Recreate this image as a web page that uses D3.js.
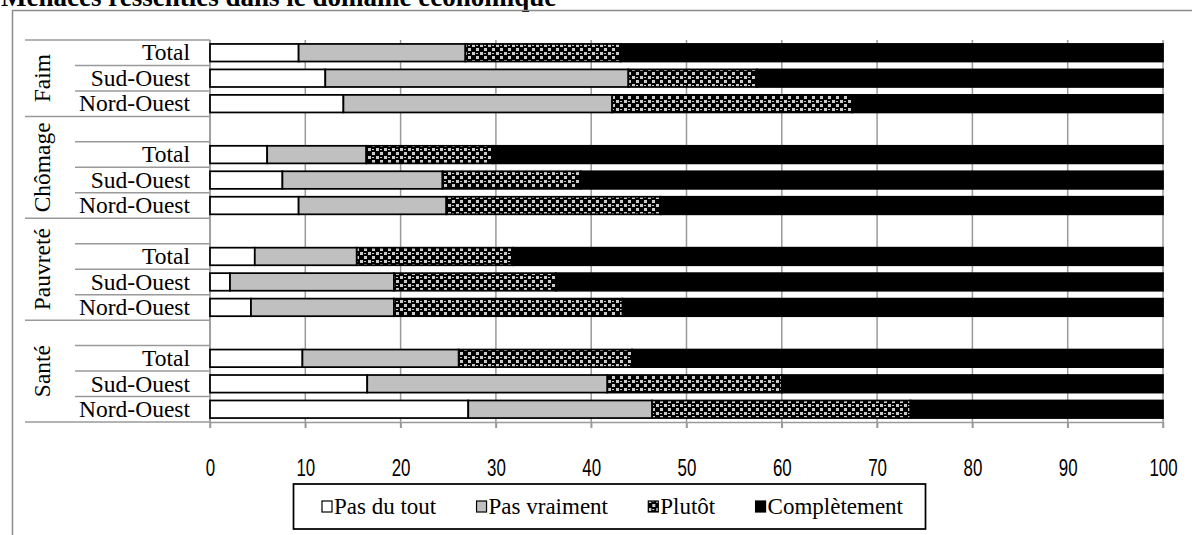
<!DOCTYPE html>
<html>
<head>
<meta charset="utf-8">
<script src="https://cdn.jsdelivr.net/npm/d3@7"></script>
<style>
  body { margin: 0; background: #fff; }
  svg { display: block; }
</style>
</head>
<body>
<div id="chart"></div>
<script>
var width = 1192;
var height = 535;

// data (percent)
var groups = ["Faim", "Chômage", "Pauvreté", "Santé"];
var regions = ["Total", "Sud-Ouest", "Nord-Ouest"];
var series = ["Pas du tout", "Pas vraiment", "Plutôt", "Complètement"];

// rows: Faim (Total, SO, NO), Chômage (...), Pauvreté (...), Santé (...)
var pasDuTout    = [9.3, 12.1, 14.0,  6.0,  7.6,  9.3,  4.7,  2.1,  4.3,  9.7, 16.5, 27.1];
var pasVraiment  = [17.5, 31.8, 28.2, 10.4, 16.8, 15.5, 10.7, 17.2, 15.0, 16.4, 25.2, 19.3];
var plutot       = [16.3, 13.5, 25.2, 13.3, 14.5, 22.5, 16.4, 17.0, 24.0, 18.2, 18.3, 27.1];
var completement = [56.9, 42.6, 32.6, 70.3, 61.1, 52.7, 68.2, 63.7, 56.7, 55.7, 40.0, 26.5];

var ticks = [0, 10, 20, 30, 40, 50, 60, 70, 80, 90, 100];

////////////////////////////////////////////////////////////////////////////////

var valuesBySeries = [pasDuTout, pasVraiment, plutot, completement];

// build the slots: every group but the first starts with an empty slot
var slots = [];
var rows = [];
groups.forEach(function(g, gi) {
    if (gi > 0) slots.push({ key: "blank" + gi, group: g, label: "", blank: true });
    regions.forEach(function(r, ri) {
        var idx = gi * regions.length + ri;
        var row = { key: g + "|" + r, group: g, label: r };
        series.forEach(function(s, si) { row[s] = valuesBySeries[si][idx]; });
        slots.push(row);
        rows.push(row);
    });
});

var svg = d3.select("#chart").append("svg")
    .attr("width", width)
    .attr("height", height);

var defs = svg.append("defs");
var pat = defs.append("pattern")
    .attr("id", "checker")
    .attr("patternUnits", "userSpaceOnUse")
    .attr("width", 8)
    .attr("height", 8);
pat.append("rect").attr("width", 8).attr("height", 8).attr("fill", "#000");
pat.append("rect").attr("x", 0).attr("y", 4).attr("width", 3).attr("height", 3).attr("fill", "#cccccc");
pat.append("rect").attr("x", 4).attr("y", 0).attr("width", 3).attr("height", 3).attr("fill", "#cccccc");
pat.append("rect").attr("x", 4).attr("y", 5).attr("width", 2).attr("height", 1).attr("fill", "#cccccc");

var fills = {
    "Pas du tout": "#ffffff",
    "Pas vraiment": "#c0c0c0",
    "Plutôt": "url(#checker)",
    "Complètement": "#000000"
};

var gridColor = "#9a9a9a";
var serif = "'Liberation Serif', 'Times New Roman', Times, serif";

var x = d3.scaleLinear().domain([0, 100]).range([210, 1163]);
var y = d3.scaleBand()
    .domain(slots.map(function(d) { return d.key; }))
    .range([40, 422])
    .padding(0);

var barH = y.bandwidth() * 0.69;

// title (partly cut at the top)
svg.append("text")
    .attr("x", 1)
    .attr("y", 6)
    .attr("font-family", serif)
    .attr("font-weight", "bold")
    .attr("font-size", "27px")
    .text("Menaces ressenties dans le domaine économique");

// chart border (left and top only visible)
svg.append("path")
    .attr("d", "M12.5,535 L12.5,10.5 L1192,10.5")
    .attr("fill", "none")
    .attr("stroke", "#8c8c8c")
    .attr("stroke-width", 1.5);

// vertical gridlines
svg.append("g")
    .selectAll("line")
    .data(ticks)
    .enter().append("line")
    .attr("x1", function(d) { return x(d); })
    .attr("x2", function(d) { return x(d); })
    .attr("y1", 40)
    .attr("y2", 428)
    .attr("stroke", gridColor)
    .attr("stroke-width", 1.5);

// x axis
var axis = svg.append("g")
    .attr("transform", "translate(0,422)")
    .call(d3.axisBottom(x).tickValues(ticks).tickSize(6).tickPadding(32).tickSizeOuter(0));
axis.select(".domain").attr("stroke", gridColor).attr("stroke-width", 1.5);
axis.selectAll(".tick line").attr("stroke", gridColor).attr("stroke-width", 1.5);
axis.selectAll(".tick text")
    .attr("font-family", "'Liberation Sans', Arial, sans-serif")
    .attr("font-size", "23px")
    .attr("fill", "#000")
    .attr("textLength", function(d) { return String(d).length * 9.4; })
    .attr("lengthAdjust", "spacingAndGlyphs");

// category separators on the left
var bounds = d3.range(slots.length + 1);
svg.append("g")
    .selectAll("line")
    .data(bounds)
    .enter().append("line")
    .attr("x1", function(i) {
        var isGroup = i === 0 || i === slots.length || (slots[i] && slots[i].blank);
        return isGroup ? 25 : 75;
    })
    .attr("x2", 210)
    .attr("y1", function(i) { return 40 + i * y.step(); })
    .attr("y2", function(i) { return 40 + i * y.step(); })
    .attr("stroke", gridColor)
    .attr("stroke-width", 1.5);

svg.append("line")
    .attr("x1", 210).attr("x2", 210)
    .attr("y1", 40).attr("y2", 422)
    .attr("stroke", gridColor)
    .attr("stroke-width", 1.5);

// bars
var stacked = d3.stack().keys(series)(rows);
var layer = svg.append("g")
    .selectAll("g")
    .data(stacked)
    .enter().append("g")
    .attr("fill", function(d) { return fills[d.key]; });

layer.selectAll("rect")
    .data(function(d) { return d; })
    .enter().append("rect")
    .attr("x", function(d) { return x(d[0]); })
    .attr("y", function(d) { return y(d.data.key) + (y.bandwidth() - barH) / 2; })
    .attr("width", function(d) { return x(d[1]) - x(d[0]); })
    .attr("height", barH)
    .attr("stroke", "#000")
    .attr("stroke-width", 1.75);

// row labels
svg.append("g")
    .selectAll("text")
    .data(rows)
    .enter().append("text")
    .attr("x", 190)
    .attr("y", function(d) { return y(d.key) + y.bandwidth() / 2; })
    .attr("dy", "0.33em")
    .attr("text-anchor", "end")
    .attr("font-family", serif)
    .attr("font-size", "23.5px")
    .text(function(d) { return d.label; });

// group labels, rotated
svg.append("g")
    .selectAll("text")
    .data(groups)
    .enter().append("text")
    .attr("transform", function(g) {
        var keys = slots.filter(function(s) { return s.group === g; });
        var top = y(keys[0].key);
        var bottom = y(keys[keys.length - 1].key) + y.bandwidth();
        return "translate(50," + ((top + bottom) / 2) + ") rotate(-90)";
    })
    .attr("text-anchor", "middle")
    .attr("font-family", serif)
    .attr("font-size", "23.5px")
    .text(function(g) { return g; });

// legend: entries spread evenly between legendStart and legendEnd
var legendStart = 322, legendEnd = 903;
var legend = svg.append("g");
legend.append("rect")
    .attr("x", 293.5)
    .attr("y", 484)
    .attr("width", 632)
    .attr("height", 45)
    .attr("fill", "#fff")
    .attr("stroke", "#000")
    .attr("stroke-width", 1.75);

var items = legend.selectAll("g.item")
    .data(series)
    .enter().append("g")
    .attr("class", "item");

items.append("rect")
    .attr("y", 501)
    .attr("width", 10)
    .attr("height", 11)
    .attr("fill", function(d) { return fills[d]; })
    .attr("stroke", "#000")
    .attr("stroke-width", 1.2);

items.append("text")
    .attr("x", 12)
    .attr("y", 514)
    .attr("font-family", serif)
    .attr("font-size", "23px")
    .text(function(d) { return d; });

var widths = [];
items.each(function() {
    widths.push(12 + d3.select(this).select("text").node().getComputedTextLength());
});
var legendGap = (legendEnd - legendStart - d3.sum(widths)) / (series.length - 1);
var cursor = legendStart;
items.each(function(d, i) {
    d3.select(this).attr("transform", "translate(" + cursor + ",0)");
    cursor += widths[i] + legendGap;
});
</script>
</body>
</html>
